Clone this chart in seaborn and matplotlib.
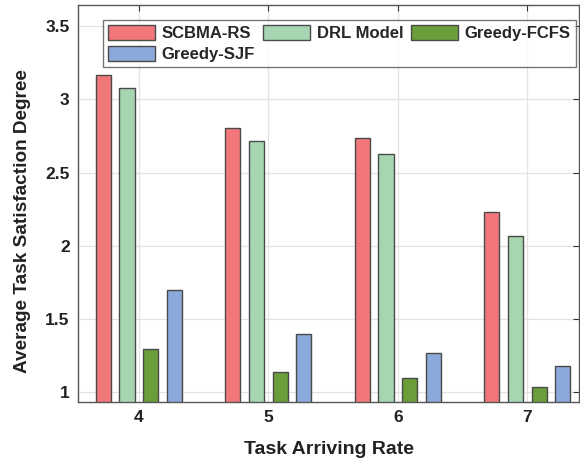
import matplotlib
matplotlib.use('Agg')
import matplotlib.pyplot as plt
import matplotlib.patches as mpatches
import matplotlib.ticker as mticker
import seaborn as sns
import pandas as pd

rates = ['4', '5', '6', '7']
methods = ['SCBMA-RS', 'DRL Model', 'Greedy-FCFS', 'Greedy-SJF']
scbma_rs = [3.165, 2.807, 2.737, 2.229]
drl_model = [3.075, 2.714, 2.628, 2.065]
greedy_fcfs = [1.295, 1.136, 1.095, 1.038]
greedy_sjf = [1.696, 1.397, 1.270, 1.179]
colors = ['#F2777A', '#A6D6B1', '#6A9E3B', '#8BA9DA']

rows = []
for name, vals in zip(methods, [scbma_rs, drl_model, greedy_fcfs, greedy_sjf]):
    for r, v in zip(rates, vals):
        rows.append({'rate': r, 'value': v, 'method': name})
df = pd.DataFrame(rows)

sns.set_style('white')
plt.rcParams['font.family'] = ['Liberation Sans', 'DejaVu Sans']
plt.rcParams['font.weight'] = 'bold'

fig = plt.figure(figsize=(5.8, 4.66), dpi=100)
ax = fig.add_axes([0.1345, 0.138, 0.864, 0.851])

sns.barplot(data=df, x='rate', y='value', hue='method', hue_order=methods,
            palette=dict(zip(methods, colors)), saturation=1, width=0.73, gap=0.36,
            edgecolor='#4a4a4a', linewidth=1.0, legend=False, ax=ax)

ax.set_xlim(-0.47, 3.4)
ax.set_ylim(0.936, 3.644)
ax.yaxis.set_major_locator(mticker.MultipleLocator(0.5))
ax.yaxis.set_major_formatter(mticker.FormatStrFormatter('%g'))
ax.set_axisbelow(True)
ax.grid(True, color='#e3e3e3', linewidth=0.9)
ax.tick_params(direction='in', length=4, width=0.8, color='#333333',
               top=True, right=True, labelsize=12.5, pad=6)
for lab in ax.get_xticklabels() + ax.get_yticklabels():
    lab.set_fontweight('bold')
    lab.set_color('#222222')
for sp in ax.spines.values():
    sp.set_color('#555555')
    sp.set_linewidth(1.0)

ax.set_xlabel('Task Arriving Rate', fontsize=14, fontweight='bold', color='#222222')
ax.set_ylabel('Average Task Satisfaction Degree', fontsize=13.7, fontweight='bold', color='#222222')
ax.xaxis.set_label_coords(0.5, -0.1)
ax.yaxis.set_label_coords(-0.093, 0.455)

handles = [mpatches.Patch(facecolor=c, edgecolor='#4a4a4a', linewidth=1.0, label=m)
           for m, c in zip(methods, colors)]
order = [0, 3, 1, 2]
leg = ax.legend([handles[i] for i in order], [methods[i] for i in order],
                ncol=3, loc='upper right', bbox_to_anchor=(1.0, 0.972),
                prop={'weight': 'bold', 'size': 12}, frameon=True, fancybox=False,
                edgecolor='#555555', handlelength=2.8, handleheight=1.05,
                handletextpad=0.4, columnspacing=0.5, borderpad=0.3, labelspacing=0.3,
                borderaxespad=0.2)
leg.get_frame().set_linewidth(1.0)

plt.savefig('out.png', dpi=100)
